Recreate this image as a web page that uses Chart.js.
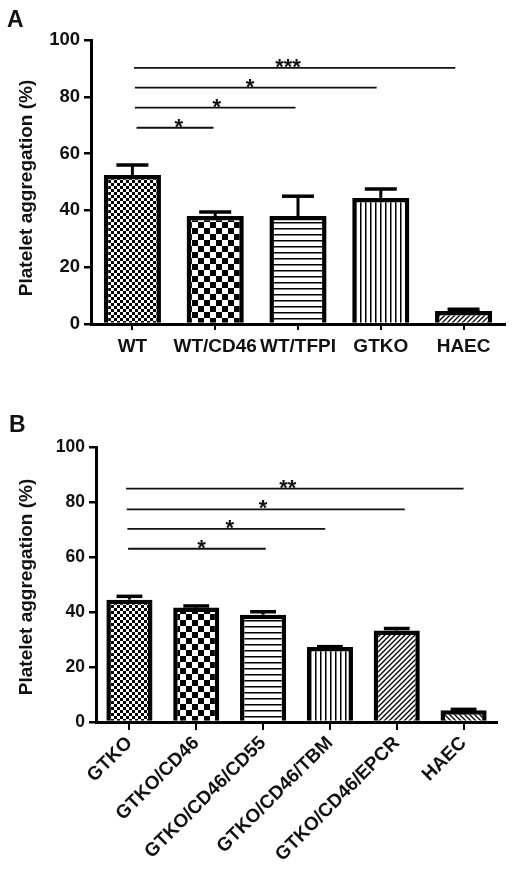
<!DOCTYPE html>
<html>
<head>
<meta charset="utf-8">
<script src="https://cdn.jsdelivr.net/npm/chart.js@4.4.0/dist/chart.umd.min.js"></script>
<style>
  html, body { margin: 0; padding: 0; background: #fff; }
  #wrap { position: relative; width: 512px; height: 884px; }
  canvas { position: absolute; left: 0; }
  #chartA { top: 0; }
  #chartB { top: 380px; }
</style>
</head>
<body>
<div id="wrap">
  <canvas id="chartA" width="512" height="380"></canvas>
  <canvas id="chartB" width="512" height="504"></canvas>
</div>
<script>
// Panel A data
const categoriesA = ['WT', 'WT/CD46', 'WT/TFPI', 'GTKO', 'HAEC'];
const meansA = [52.5, 38, 38, 44.4, 4.6];
const errTopA = [56, 39.4, 45, 47.5, 5.2];
const patternsA = ['fine', 'checker', 'hlines', 'vlines', 'diag'];
const sigA_y = [90.2, 83.2, 76.2, 69.1];
const sigA_from = [0.02, 0.03, 0.03, 0.05];
const sigA_to = [3.9, 2.95, 1.97, 0.98];
const sigA_starAt = [1.88, 1.42, 1.02, 0.56];
const sigA_text = ['***', '*', '*', '*'];

// Panel B data
const categoriesB = ['GTKO', 'GTKO/CD46', 'GTKO/CD46/CD55', 'GTKO/CD46/TBM', 'GTKO/CD46/EPCR', 'HAEC'];
const meansB = [44.5, 41.6, 39, 27.3, 33.3, 4.3];
const errTopB = [45.7, 42.2, 40.1, 27.4, 34.0, 4.6];
const patternsB = ['fine', 'checker', 'hlines', 'vlines', 'diag', 'diagBack'];
const sigB_y = [84.9, 77.3, 70.2, 63];
const sigB_from = [-0.05, -0.04, -0.03, -0.02];
const sigB_to = [5.0, 4.12, 2.93, 2.04];
const sigB_starAt = [2.37, 2.0, 1.5, 1.08];
const sigB_text = ['**', '*', '*', '*'];

const yTicks = [0, 20, 40, 60, 80, 100];
const yTitle = 'Platelet aggregation (%)';
const fontFam = "'Liberation Sans', Arial, sans-serif";

function makePattern(kind) {
    const c = document.createElement('canvas');
    const g = c.getContext('2d');
    let s = 6;
    if (kind === 'checker') s = 12;
    if (kind === 'vlines') s = 5;
    if (kind === 'diag' || kind === 'diagBack') s = 5;
    c.width = s;
    c.height = s;
    g.fillStyle = '#fff';
    g.fillRect(0, 0, s, s);
    g.fillStyle = '#000';
    g.strokeStyle = '#000';
    if (kind === 'fine') {
        g.fillRect(0, 0, 3, 3);
        g.fillRect(3, 3, 3, 3);
    } else if (kind === 'checker') {
        g.fillRect(0, 0, 6, 6);
        g.fillRect(6, 6, 6, 6);
    } else if (kind === 'hlines') {
        g.fillRect(0, 0, s, 1.5);
    } else if (kind === 'vlines') {
        g.fillRect(0, 0, 1.5, s);
    } else {
        g.lineWidth = 1.3;
        g.beginPath();
        if (kind === 'diag') {
            g.moveTo(-1, s + 1); g.lineTo(s + 1, -1);
            g.moveTo(-1, 1); g.lineTo(1, -1);
            g.moveTo(s - 1, s + 1); g.lineTo(s + 1, s - 1);
        } else {
            g.moveTo(-1, -1); g.lineTo(s + 1, s + 1);
            g.moveTo(s - 1, -1); g.lineTo(s + 1, 1);
            g.moveTo(-1, s - 1); g.lineTo(1, s + 1);
        }
        g.stroke();
    }
    return c;
}

function overlay(cfg) {
    return {
        id: 'overlay' + cfg.letter,
        afterDatasetsDraw(chart) {
            const ctx = chart.ctx;
            const xs = chart.scales.x;
            const ys = chart.scales.y;
            const meta = chart.getDatasetMeta(0);
            ctx.save();
            ctx.strokeStyle = '#000';
            // error bars (upper half only)
            meta.data.forEach((bar, i) => {
                const yErr = ys.getPixelForValue(cfg.errTop[i]);
                const half = bar.width * 0.28;
                ctx.lineWidth = 3;
                ctx.beginPath();
                ctx.moveTo(bar.x, bar.y);
                ctx.lineTo(bar.x, yErr);
                ctx.stroke();
                ctx.lineWidth = 3.5;
                ctx.beginPath();
                ctx.moveTo(bar.x - half, yErr);
                ctx.lineTo(bar.x + half, yErr);
                ctx.stroke();
            });
            // significance lines
            ctx.strokeStyle = '#111';
            ctx.fillStyle = '#111';
            ctx.lineWidth = 1.8;
            ctx.font = 'bold 22px ' + fontFam;
            ctx.textAlign = 'center';
            ctx.textBaseline = 'alphabetic';
            cfg.sigY.forEach((v, i) => {
                const y = ys.getPixelForValue(v);
                ctx.beginPath();
                ctx.moveTo(xs.getPixelForValue(cfg.sigFrom[i]), y);
                ctx.lineTo(xs.getPixelForValue(cfg.sigTo[i]), y);
                ctx.stroke();
                ctx.fillText(cfg.sigText[i], xs.getPixelForValue(cfg.starAt[i]), y + 6);
            });
            ctx.restore();
        },
        afterDraw(chart) {
            const ctx = chart.ctx;
            ctx.save();
            ctx.fillStyle = '#111';
            ctx.font = 'bold 23px ' + fontFam;
            ctx.textAlign = 'left';
            ctx.textBaseline = 'alphabetic';
            ctx.fillText(cfg.letter, cfg.letterPos[0], cfg.letterPos[1]);
            ctx.font = 'bold 19px ' + fontFam;
            ctx.textAlign = 'center';
            ctx.textBaseline = 'middle';
            ctx.translate(cfg.titlePos[0], cfg.titlePos[1]);
            ctx.rotate(-Math.PI / 2);
            ctx.fillText(yTitle, 0, 0);
            ctx.restore();
        }
    };
}

function buildChart(id, cfg) {
    const el = document.getElementById(id);
    return new Chart(el.getContext('2d'), {
        type: 'bar',
        data: {
            labels: cfg.labels,
            datasets: [{
                data: cfg.means,
                backgroundColor: cfg.patterns.map(p => el.getContext('2d').createPattern(makePattern(p), 'repeat')),
                borderColor: '#000',
                borderWidth: 4.5,
                borderSkipped: 'start',
                barPercentage: 0.69,
                categoryPercentage: 1.0,
            }],
        },
        options: {
            responsive: false,
            animation: false,
            devicePixelRatio: 1,
            layout: { padding: cfg.padding },
            plugins: {
                legend: { display: false },
                tooltip: { enabled: false },
                title: { display: false },
            },
            scales: {
                x: {
                    grid: {
                        display: true,
                        drawOnChartArea: false,
                        drawTicks: true,
                        offset: false,
                        tickLength: cfg.xTickLen,
                        lineWidth: 2,
                        color: '#000',
                    },
                    border: { display: true, width: 3, color: '#000' },
                    ticks: {
                        autoSkip: false,
                        maxRotation: cfg.rotation,
                        minRotation: cfg.rotation,
                        color: '#111',
                        padding: cfg.xPad,
                        font: { family: fontFam, size: cfg.xFont, weight: 'bold' },
                    },
                    afterFit: s => { s.height = cfg.xHeight; },
                },
                y: {
                    min: 0,
                    max: 100,
                    afterBuildTicks: s => { s.ticks = yTicks.map(v => ({ value: v })); },
                    grid: {
                        drawOnChartArea: false,
                        drawTicks: true,
                        tickLength: 7,
                        lineWidth: 2.5,
                        color: '#000',
                    },
                    border: { display: true, width: 3, color: '#000' },
                    ticks: {
                        color: '#111',
                        padding: 4,
                        font: { family: fontFam, size: cfg.yFont, weight: 'bold' },
                    },
                    afterFit: s => { s.width = cfg.yWidth; },
                },
            },
        },
        plugins: [overlay(cfg)],
    });
}

buildChart('chartA', {
    letter: 'A',
    letterPos: [7, 27],
    titlePos: [27, 188],
    labels: categoriesA,
    means: meansA,
    errTop: errTopA,
    patterns: patternsA,
    sigY: sigA_y, sigFrom: sigA_from, sigTo: sigA_to, starAt: sigA_starAt, sigText: sigA_text,
    padding: { top: 40, right: 7, left: 0, bottom: 0 },
    xTickLen: 6, xPad: 5, xFont: 19, rotation: 0, xHeight: 56,
    yFont: 18.5, yWidth: 91,
});

buildChart('chartB', {
    letter: 'B',
    letterPos: [9, 52],
    titlePos: [27, 207],
    labels: categoriesB,
    means: meansB,
    errTop: errTopB,
    patterns: patternsB,
    sigY: sigB_y, sigFrom: sigB_from, sigTo: sigB_to, starAt: sigB_starAt, sigText: sigB_text,
    padding: { top: 67, right: 15, left: 0, bottom: 0 },
    xTickLen: 8, xPad: 2, xFont: 19, rotation: 45, xHeight: 162,
    yFont: 17.5, yWidth: 96,
});
</script>
</body>
</html>
